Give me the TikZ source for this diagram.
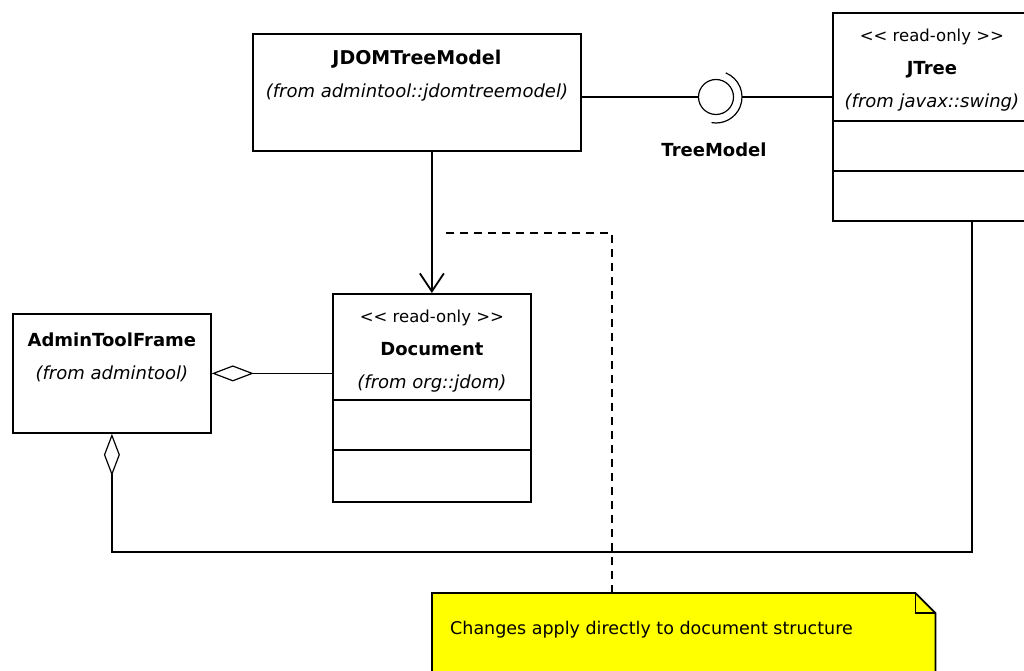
\documentclass[tikz,border=0pt]{standalone}
\usepackage{fontspec}
\setmainfont{DejaVu Sans}
\usetikzlibrary{arrows.meta,positioning}

\definecolor{noteyellow}{HTML}{FFFF00}
\newcommand{\stereo}[1]{{\fontsize{16.5}{33}\selectfont<\kern0pt< #1 >\kern0pt>}}

\tikzset{
  classbox/.style={draw, line width=1.8pt, anchor=north west, inner sep=0pt, minimum width=198pt},
  classtext/.style={align=center, inner sep=0pt, anchor=north, font=\fontsize{18}{33}\selectfont},
  conn/.style={line width=1.8pt},
  aggr/.style={conn, {Diamond[open, length=42pt, width=16pt, line width=1.2pt]}-},
  dep/.style={conn, -{Straight Barb[length=18pt, width=24pt]}},
  notelink/.style={line width=1.6pt, dash pattern=on 8pt off 6pt},
}

\begin{document}
\begin{tikzpicture}[x=1pt, y=1pt]
    \useasboundingbox (0,0) rectangle (1024,670);
    \clip (0,0) rectangle (1024,670);

    % classes
    \node[classbox, minimum width=328pt, minimum height=117pt] (jdom) at (252,637) {};
    \node[classtext, below=17pt of jdom.north] (jdomtext) {\textbf{\fontsize{19}{33}\selectfont JDOMTreeModel}\\\textit{(from admintool::jdomtreemodel)}};

    \node[classbox, minimum height=208pt] (jtree) at (832,658) {};
    \node[classtext, below=17pt of jtree.north] (jtreetext) {\stereo{read-only}\\\textbf{JTree}\\\textit{(from javax::swing)}};
    \draw[conn] (jtree.west |- 0,549) -- (jtree.east |- 0,549);
    \draw[conn] (jtree.west |- 0,499) -- (jtree.east |- 0,499);

    \node[classbox, minimum height=208pt] (doc) at (332,377) {};
    \node[classtext, below=17pt of doc.north] (doctext) {\stereo{read-only}\\\textbf{Document}\\\textit{(from org::jdom)}};
    \draw[conn] (doc.west |- 0,270) -- (doc.east |- 0,270);
    \draw[conn] (doc.west |- 0,220) -- (doc.east |- 0,220);

    \node[classbox, minimum height=119pt] (atf) at (12,357) {};
    \node[classtext, below=20pt of atf.north] (atftext) {\textbf{AdminToolFrame}\\\textit{(from admintool)}};

    % interface
    \node[circle, draw, line width=1.2pt, minimum size=35pt, inner sep=0pt] (tm) at (716,573) {};
    \draw[line width=1.2pt] (tm.center) ++(68:26) arc[start angle=68, end angle=-100, radius=26];
    \coordinate (sock) at (742,573);
    \node[font=\fontsize{18}{22}\selectfont\bfseries] (tmlabel) at (714,520) {TreeModel};

    \draw[conn] (jdom.east |- tm) -- (tm.west);
    \draw[conn] (sock) -- (jtree.west |- sock);

    % associations
    \draw[dep] (jdom.south -| doc.north) -- (doc.north);
    \draw[aggr] (atf.east) -- (atf.east -| doc.west);
    \coordinate (jtfoot) at (972,450);
    \draw[aggr] (atf.south) -- (atf.south |- 0,118) -| (jtfoot);

    % note
    \node[anchor=north west, minimum width=503pt, minimum height=110pt, inner sep=0pt] (note) at (432,77) {};
    \draw[line width=1.8pt, fill=noteyellow] (note.south west) -- (note.north west)
        -- ([xshift=-20pt]note.north east) -- ([yshift=-20pt]note.north east) -- (note.south east);
    \draw[line width=1.8pt] ([xshift=-20pt]note.north east) -- ([xshift=-20pt,yshift=-20pt]note.north east)
        -- ([yshift=-20pt]note.north east);
    \node[anchor=west, inner sep=0pt, font=\fontsize{17.5}{22}\selectfont] (notetext) at (450,40) {Changes apply directly to document structure};

    \coordinate (nkink) at (612,437);
    \coordinate (nend) at (442,437);
    \draw[notelink] (nkink |- note.north) -- (nkink) -- (nend);
\end{tikzpicture}
\end{document}
